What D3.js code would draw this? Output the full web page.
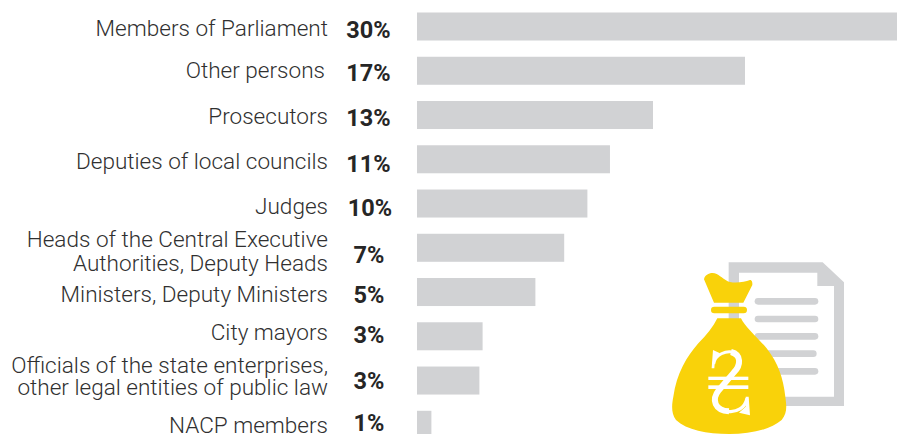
<!DOCTYPE html>
<html><head><meta charset="utf-8">
<script src="https://cdn.jsdelivr.net/npm/d3@7"></script>
<style>html,body{margin:0;padding:0;background:#fff}svg{display:block}</style>
</head><body><svg id="c" width="897" height="434"></svg>
<script>
const categories = [
  ["Members of Parliament"],
  ["Other persons"],
  ["Prosecutors"],
  ["Deputies of local councils"],
  ["Judges"],
  ["Heads of the Central Executive","Authorities, Deputy Heads"],
  ["Ministers, Deputy Ministers"],
  ["City mayors"],
  ["Officials of the state enterprises,","other legal entities of public law"],
  ["NACP members"]
];
const percentLabels = ["30%","17%","13%","11%","10%","7%","5%","3%","3%","1%"];
// drawn bar lengths (the source's bars are not proportional to its labels)
const barLengths = [30,20.5,14.75,12.06,10.65,9.2,7.4,4.1,3.9,0.9];

const svg = d3.select("#c");
const W = 897, H = 434;
const x = d3.scaleLinear().domain([0,30]).range([417,897]);
const y = d3.scaleBand().domain(d3.range(categories.length)).range([12.5,438.8]).paddingInner(0.367).paddingOuter(0);

// hand-placed text baselines of the source layout
const labelBase = [[36],[78],[124],[169],[214],[247,271],[302],[340],[373,395],[433]];
const labelRight = [328,325,328,328,328,328,328,328,328,328];
const pctBase = [38,81,126,172,216,263,303,343,389,431];
const pctX = [368.5,368.5,368.5,368.5,370,369,369,369,369,369];

svg.append("defs").append("clipPath").attr("id","pg").append("rect").attr("width",W).attr("height",H);
svg.append("g").attr("clip-path","url(#pg)").selectAll("rect").data(barLengths).join("rect")
  .attr("x",x(0)).attr("y",(d,i)=>y(i)).attr("width",d=>x(d)-x(0)).attr("height",y.bandwidth()).attr("fill","#d1d2d4");

const font = "Roboto, 'Open Sans', sans-serif";
const g = svg.append("g").attr("font-family",font);
const lab = g.selectAll("text.l").data(categories).join("text").attr("class","l")
  .attr("text-anchor","end").attr("fill","#303030").attr("font-size",22.55).attr("font-weight",300);
lab.each(function(d,i){
  const t=d3.select(this);
  d.forEach((s,j)=>{
    t.append("tspan").attr("x",labelRight[i]).attr("y",labelBase[i][j]).text(s);
  });
});
g.selectAll("text.p").data(percentLabels).join("text").attr("class","p")
  .attr("x",(d,i)=>pctX[i]).attr("y",(d,i)=>pctBase[i])
  .attr("text-anchor","middle").attr("font-weight",700).attr("font-size",23.5).attr("fill","#262626")
  .text(d=>d);

// icon: zoom-crop coordinates scaled by 1/3 from (650,250)
const icon = svg.append("g").attr("transform","translate(650,250) scale(0.3333)");
icon.append("path").attr("fill","#d1d2d4").attr("d","M236,37H518L582,97V468H236Z");
icon.append("path").attr("fill","#fff").attr("d","M267,68H502V108H552V440H267Z");
[[314,505,154],[314,505,207],[314,505,259],[314,500,311],[314,505,364]].forEach(([a,b,c])=>{
  icon.append("line").attr("x1",a+10).attr("x2",b-10).attr("y1",c).attr("y2",c)
    .attr("stroke","#d1d2d4").attr("stroke-width",20).attr("stroke-linecap","round");
});
const yel="#f9d20a";
icon.append("path").attr("fill",yel).attr("d","M162,88C165,72 185,65 200,72C215,80 225,92 240,96C260,100 285,96 300,90C306,90 308,98 307,105L280,158H192Z");
icon.append("rect").attr("fill",yel).attr("x",183).attr("y",170).attr("width",108).attr("height",20).attr("rx",10);
icon.append("path").attr("fill",yel).attr("d","M202,205H273C285,230 320,260 350,295C385,340 400,385 406,440C410,470 412,490 395,510C360,540 300,552 238,552C170,552 110,540 78,510C62,490 66,460 70,440C80,370 110,320 145,280C170,255 190,230 202,205Z");
// hryvnia sign, crop coordinates scaled by 1/3 from (695,340)
const h = svg.append("g").attr("transform","translate(695,340) scale(0.3333)").attr("fill","none").attr("stroke","#fff");
h.append("path").attr("stroke-width",9).attr("d","M56,72C60,42 95,32 112,36");
h.append("path").attr("stroke-width",10).attr("d","M98,214C125,218 150,204 156,175");
h.append("path").attr("stroke-width",18).attr("d","M108,36C140,44 138,76 116,98L72,150C48,180 60,212 102,214");
h.append("path").attr("stroke","none").attr("fill","#fff").attr("d","M50,85L54,30L75,40L60,60L58,85Z");
h.append("path").attr("stroke","none").attr("fill","#fff").attr("d","M152,170H161L165,226L132,218L152,200Z");
h.append("rect").attr("stroke","none").attr("fill","#fff").attr("x",40).attr("y",110).attr("width",120).attr("height",10);
h.append("rect").attr("stroke","none").attr("fill","#fff").attr("x",40).attr("y",136).attr("width",120).attr("height",11);
</script></body></html>
